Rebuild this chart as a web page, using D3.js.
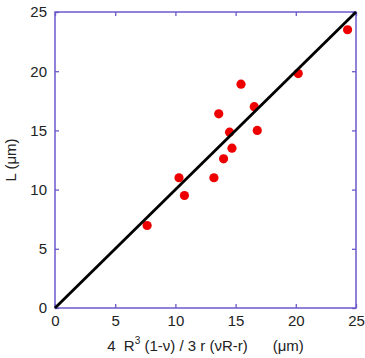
<!DOCTYPE html>
<html><head><meta charset="utf-8">
<script src="https://cdn.jsdelivr.net/npm/d3@7"></script>
<style>body{margin:0;background:#fff}svg{display:block}text{font-family:"Liberation Sans",Arial,sans-serif}</style>
</head><body>
<script>
const xValues = [7.65, 10.3, 10.75, 13.2, 13.6, 14.0, 14.5, 14.7, 15.45, 16.55, 16.8, 20.2, 24.3];
const yValues = [6.97, 11.0, 9.5, 11.0, 16.4, 12.6, 14.85, 13.5, 18.9, 17.0, 15.0, 19.8, 23.5];
const fitLine = [[0,0],[25,25]];
const tickValues = [0,5,10,15,20,25];

const W=365,H=358, m={l:55,r:9,t:12,b:50};
const svg=d3.select("body").append("svg").attr("width",W).attr("height",H);
const x=d3.scaleLinear().domain([0,25]).range([m.l,W-m.r]);
const y=d3.scaleLinear().domain([0,25]).range([H-m.b,m.t]);
const axisColor="#6a5acd";

function styleAxis(g,showLabels){
  g.select(".domain").remove();
  g.selectAll(".tick line").attr("stroke",axisColor).attr("stroke-width",1.3);
  g.selectAll(".tick text").attr("font-size",15).attr("fill","#222");
  if(!showLabels) g.selectAll(".tick text").remove();
}
svg.append("g").attr("transform",`translate(0,${y(0)})`)
  .call(d3.axisBottom(x).tickValues(tickValues).tickSize(-4).tickPadding(7).tickFormat(d3.format("d")))
  .call(g=>styleAxis(g,true));
svg.append("g").attr("transform",`translate(0,${y(25)})`)
  .call(d3.axisTop(x).tickValues(tickValues).tickSize(-4))
  .call(g=>styleAxis(g,false));
svg.append("g").attr("transform",`translate(${x(0)},0)`)
  .call(d3.axisLeft(y).tickValues(tickValues).tickSize(-4).tickPadding(8).tickFormat(d3.format("d")))
  .call(g=>styleAxis(g,true));
svg.append("g").attr("transform",`translate(${x(25)},0)`)
  .call(d3.axisRight(y).tickValues(tickValues).tickSize(-4))
  .call(g=>styleAxis(g,false));

svg.append("rect").attr("x",x(0)).attr("y",y(25)).attr("width",x(25)-x(0)).attr("height",y(0)-y(25))
  .attr("fill","none").attr("stroke",axisColor).attr("stroke-width",1.5);

svg.append("g").selectAll("circle").data(xValues).join("circle")
  .attr("cx",d=>x(d)).attr("cy",(d,i)=>y(yValues[i])).attr("r",4.6).attr("fill","#ee0000");

svg.append("path").datum(fitLine).attr("d",d3.line().x(d=>x(d[0])).y(d=>y(d[1])))
  .attr("stroke","#000").attr("stroke-width",2.8).attr("fill","none");

// x title
const xt=svg.append("text").attr("x",(x(0)+x(25))/2).attr("y",351).attr("text-anchor","middle")
  .attr("font-size",15).attr("fill","#222").attr("xml:space","preserve");
xt.append("tspan").text("4  R");
xt.append("tspan").attr("font-size",10).attr("dy",-7).text("3");
xt.append("tspan").attr("dy",7).text(" (1-ν) / 3 r (νR-r)      (μm)");

svg.append("text").attr("transform",`translate(16,${(y(0)+y(25))/2}) rotate(-90)`)
  .attr("text-anchor","middle").attr("font-size",15).attr("fill","#222").text("L (μm)");
</script>
</body></html>
